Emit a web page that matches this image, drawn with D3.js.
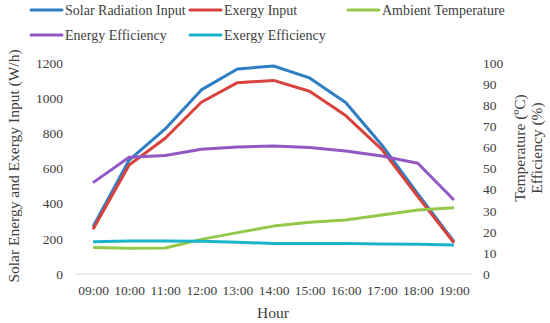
<!DOCTYPE html>
<html>
<head>
<meta charset="utf-8">
<script src="https://cdn.jsdelivr.net/npm/d3@7"></script>
<style>
  body { margin: 0; background: #fff; }
  svg text { font-family: "Liberation Serif", "DejaVu Serif", serif; fill: #404040; }
</style>
</head>
<body>
<svg id="chart" width="550" height="323" font-family="Liberation Serif, serif"></svg>
<script>
// Hours on the x axis
var hours = ['09:00', '10:00', '11:00', '12:00', '13:00', '14:00', '15:00', '16:00', '17:00', '18:00', '19:00'];

// Left axis series (W/h)
var solarInput = [269, 648, 825, 1047, 1166, 1183, 1115, 975, 734, 455, 184];
var exergyInput = [255, 620, 772, 977, 1088, 1101, 1039, 901, 709, 440, 178];

// Right axis series (ºC and %)
var ambientTemp = [12.6, 12.2, 12.3, 16.4, 19.6, 22.7, 24.5, 25.6, 28.0, 30.3, 31.4];
var energyEff = [43.3, 55.3, 56.2, 59.1, 60.2, 60.7, 60.0, 58.3, 55.9, 52.5, 35.1];
var exergyEff = [15.3, 15.6, 15.6, 15.5, 15.0, 14.5, 14.4, 14.4, 14.2, 14.1, 13.7];

var leftTicks = [0, 200, 400, 600, 800, 1000, 1200];
var rightTicks = [0, 10, 20, 30, 40, 50, 60, 70, 80, 90, 100];

var series = [
  { name: 'Solar Radiation Input', values: solarInput, axis: 'left', color: '#2f7ec3' },
  { name: 'Exergy Input', values: exergyInput, axis: 'left', color: '#d8423d' },
  { name: 'Ambient Temperature', values: ambientTemp, axis: 'right', color: '#93c84b' },
  { name: 'Energy Efficiency', values: energyEff, axis: 'right', color: '#9358c3' },
  { name: 'Exergy Efficiency', values: exergyEff, axis: 'right', color: '#1ab4cc' }
];

var FONT = '"Liberation Serif", serif';
var svg = d3.select('#chart');

// plot area (avoid the global window.top)
var plot = { left: 75, right: 472, top: 63, bottom: 274 };

var x = d3.scalePoint().domain(hours).range([plot.left, plot.right]).padding(0.5);
var yL = d3.scaleLinear().domain([0, 1200]).range([plot.bottom, plot.top]);
var yR = d3.scaleLinear().domain([0, 100]).range([plot.bottom, plot.top]);

// baseline
svg.append('line')
  .attr('x1', plot.left).attr('x2', plot.right)
  .attr('y1', plot.bottom).attr('y2', plot.bottom)
  .style('stroke', '#d9d9d9').style('stroke-width', 1);

var styleTicks = function(g) {
  g.attr('font-family', null).attr('font-size', null);
  g.select('.domain').remove();
  g.selectAll('text')
    .style('font-size', '13.5px')
    .style('font-family', FONT)
    .attr('fill', '#404040');
};

// left axis
svg.append('g').attr('transform', 'translate(63,0)')
  .call(d3.axisLeft(yL).tickValues(leftTicks).tickFormat(d3.format('d')).tickSize(0).tickPadding(0))
  .call(styleTicks);

// right axis
svg.append('g').attr('transform', 'translate(483,0)')
  .call(d3.axisRight(yR).tickValues(rightTicks).tickFormat(d3.format('d')).tickSize(0).tickPadding(0))
  .call(styleTicks);

// x axis labels
svg.append('g').attr('transform', 'translate(0,285)')
  .call(d3.axisBottom(x).tickSize(0).tickPadding(0))
  .call(styleTicks);

// axis titles
var title = function(txt, transform) {
  svg.append('text')
    .attr('transform', transform)
    .attr('text-anchor', 'middle')
    .style('font-family', FONT)
    .style('font-size', '15.5px')
    .text(txt);
};
title('Hour', 'translate(273,318)');
title('Solar Energy and Exergy Input (W/h)', 'translate(19,166) rotate(-90)');
title('Temperature (ºC)', 'translate(525,148) rotate(-90)');
title('Efficiency (%)', 'translate(542,148) rotate(-90)');

// lines
var lineFor = function(s) {
  var y = s.axis === 'left' ? yL : yR;
  return d3.line()
    .x(function(d, i) { return x(hours[i]); })
    .y(function(d) { return y(d); })(s.values);
};

svg.append('g').selectAll('path')
  .data(series)
  .enter()
  .append('path')
  .attr('d', lineFor)
  .style('fill', 'none')
  .style('stroke', function(d) { return d.color; })
  .style('stroke-width', 3)
  .style('stroke-linejoin', 'round');

// legend
var legendPos = [[31, 10], [190, 10], [348, 10], [31, 35], [190, 35]];
var legend = svg.append('g').selectAll('g')
  .data(series)
  .enter()
  .append('g')
  .attr('transform', function(d, i) {
    return 'translate(' + legendPos[i][0] + ',' + legendPos[i][1] + ')';
  });

legend.append('line')
  .attr('x1', 0).attr('x2', 31)
  .attr('y1', 0).attr('y2', 0)
  .style('stroke', function(d) { return d.color; })
  .style('stroke-width', 3)
  .style('stroke-linecap', 'round');

legend.append('text')
  .attr('x', 34).attr('y', 5)
  .style('font-family', FONT)
  .style('font-size', '14px')
  .text(function(d) { return d.name; });
</script>
</body>
</html>
